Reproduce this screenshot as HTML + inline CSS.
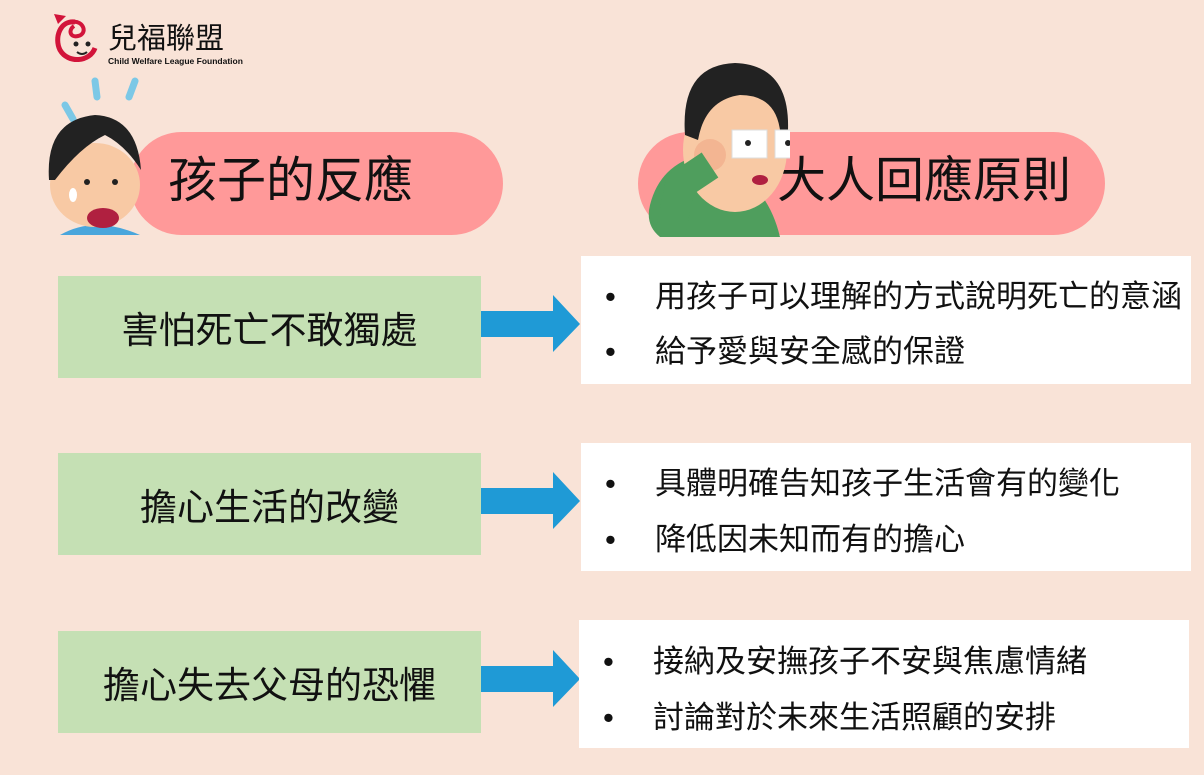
<!DOCTYPE html>
<html><head><meta charset="utf-8"><style>
body{margin:0;width:1204px;height:775px;background:#f9e3d7;position:relative;overflow:hidden;font-family:"Liberation Sans","Noto Sans CJK TC",sans-serif}
.a{position:absolute}
.pill{background:#ff9999;border-radius:52px;height:103px;top:132px}
.t{font-size:49px;color:#111;line-height:103px;white-space:nowrap}
.g{background:#c5e0b4;left:58px;width:423px;height:102px;font-size:37px;color:#111;display:flex;align-items:center;justify-content:center;white-space:nowrap}
.w{background:#fff;width:610px;height:128px;font-size:31px;color:#111}
.w div{position:absolute;left:24px;white-space:nowrap;line-height:40px}
.w span{display:inline-block;width:50px}
</style></head><body>
<svg class="a" style="left:50px;top:8px" width="210" height="62">
<path d="M25 14 C10 12 4 30 10 42 C18 56 40 54 45 40" fill="none" stroke="#d2143a" stroke-width="5"/>
<path d="M22 14 C34 12 38 26 28 28 C20 30 18 22 24 18" fill="none" stroke="#d2143a" stroke-width="4"/>
<path d="M4 6 L16 8 L8 16Z" fill="#d2143a"/>
<circle cx="26" cy="36" r="2.5" fill="#222"/><circle cx="38" cy="36" r="2.5" fill="#222"/>
<path d="M27 44 Q32 48 37 44" stroke="#222" stroke-width="2" fill="none"/>
<text x="58" y="40" font-size="29" font-family="Noto Sans CJK TC,sans-serif" fill="#111">兒福聯盟</text>
<text x="58" y="56" font-size="8.5" font-weight="bold" fill="#111">Child Welfare League Foundation</text>
</svg>
<div class="a pill" style="left:130px;width:373px"></div>
<div class="a t" style="left:168px;top:130px">孩子的反應</div>
<svg class="a" style="left:35px;top:75px" width="110" height="162">
<path d="M30 30 l8 14 M60 6 l2 16 M100 6 l-6 16" stroke="#7cc8e6" stroke-width="7" stroke-linecap="round"/>
<path d="M25 160 Q60 140 105 160Z" fill="#4aa6dc"/>
<ellipse cx="60" cy="110" rx="45" ry="42" fill="#f8c9a4"/>
<path d="M14 105 Q10 45 60 40 Q102 42 106 95 Q90 70 70 60 Q45 72 20 105Z" fill="#222"/>
<circle cx="52" cy="107" r="3" fill="#222"/><circle cx="80" cy="107" r="3" fill="#222"/>
<ellipse cx="68" cy="143" rx="16" ry="10" fill="#b02040"/>
<ellipse cx="38" cy="120" rx="4" ry="7" fill="#fff"/>
</svg>
<div class="a pill" style="left:638px;width:467px"></div>
<div class="a t" style="left:777px;top:130px">大人回應原則</div>
<svg class="a" style="left:640px;top:55px" width="150" height="182">
<path d="M10 150 Q20 110 60 100 L100 120 Q130 140 140 182 L20 182 Q5 170 10 150Z" fill="#4f9e5d"/>
<ellipse cx="95" cy="95" rx="52" ry="62" fill="#f8c9a4"/>
<path d="M45 80 Q40 10 95 8 Q150 10 148 75 L140 75 Q135 40 100 40 Q65 45 58 85Z" fill="#222"/>
<rect x="92" y="75" width="35" height="28" fill="#fff" stroke="#ddd"/><rect x="135" y="75" width="22" height="28" fill="#fff" stroke="#ddd"/>
<circle cx="108" cy="88" r="3" fill="#222"/><circle cx="148" cy="88" r="3" fill="#222"/>
<ellipse cx="120" cy="125" rx="8" ry="5" fill="#b02040"/>
<ellipse cx="70" cy="100" rx="16" ry="16" fill="#f3b592"/>
<path d="M30 180 L40 130 L70 110" stroke="#4f9e5d" stroke-width="30" fill="none"/>
</svg>

<div class="a g" style="top:276px">害怕死亡不敢獨處</div>
<div class="a g" style="top:453px">擔心生活的改變</div>
<div class="a g" style="top:631px">擔心失去父母的恐懼</div>

<svg class="a" style="left:481px;top:290px" width="100" height="450">
<g fill="#1f9ad6">
<path d="M0 21 H72 V5 L99 34 L72 62 V47 H0Z"/>
<path d="M0 198 H72 V182 L99 211 L72 239 V224 H0Z"/>
<path d="M0 376 H72 V360 L99 389 L72 417 V402 H0Z"/>
</g></svg>

<div class="a w" style="left:581px;top:256px">
<div style="top:21px"><span>•</span>用孩子可以理解的方式說明死亡的意涵</div>
<div style="top:76px"><span>•</span>給予愛與安全感的保證</div></div>
<div class="a w" style="left:581px;top:443px">
<div style="top:21px"><span>•</span>具體明確告知孩子生活會有的變化</div>
<div style="top:77px"><span>•</span>降低因未知而有的擔心</div></div>
<div class="a w" style="left:579px;top:620px">
<div style="top:22px"><span>•</span>接納及安撫孩子不安與焦慮情緒</div>
<div style="top:78px"><span>•</span>討論對於未來生活照顧的安排</div></div>
</body></html>
